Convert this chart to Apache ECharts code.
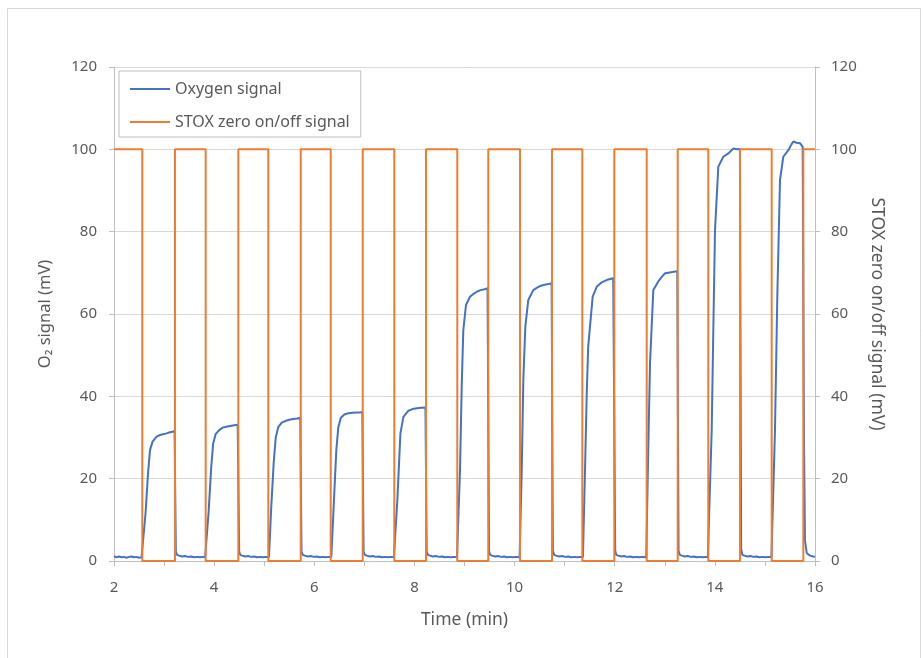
<!DOCTYPE html>
<html>
<head>
<meta charset="utf-8">
<script src="https://cdn.jsdelivr.net/npm/echarts@6/dist/echarts.min.js"></script>
<style>
html,body{margin:0;padding:0;background:#fff;}
#chart{width:923px;height:658px;}
</style>
</head>
<body>
<div id="chart"></div>
<script>
// ---- Data ----
const xTicks = [2, 4, 6, 8, 10, 12, 14, 16];
const yTicks = [0, 20, 40, 60, 80, 100, 120];

// STOX zero on/off signal: switching times (min) and levels (mV)
const stoxTimes = [2, 2.565, 2.565, 3.218, 3.218, 3.831, 3.831, 4.483, 4.483, 5.082, 5.082, 5.729, 5.729,
  6.328, 6.328, 6.967, 6.967, 7.598, 7.598, 8.231, 8.231, 8.856, 8.856, 9.475, 9.475, 10.109, 10.109,
  10.748, 10.748, 11.353, 11.353, 11.992, 11.992, 12.639, 12.639, 13.258, 13.258, 13.869, 13.869,
  14.502, 14.502, 15.135, 15.135, 15.767, 15.767, 16];
const stoxValues = [100, 100, 0, 0, 100, 100, 0, 0, 100, 100, 0, 0, 100,
  100, 0, 0, 100, 100, 0, 0, 100, 100, 0, 0, 100, 100, 0,
  0, 100, 100, 0, 0, 100, 100, 0, 0, 100, 100, 0,
  0, 100, 100, 0, 0, 100, 100];

// Oxygen signal (mV) as [time, value]
const oxygenPoints = [
  [2.00,1.2],[2.05,0.9],[2.10,1.1],[2.15,0.9],[2.20,1.0],[2.25,0.8],[2.30,1.0],[2.35,1.1],[2.40,0.9],[2.45,1.0],[2.50,0.8],[2.55,0.9],
  [2.58,1.0],[2.63,11.6],[2.68,21.4],[2.72,27.0],[2.77,29.0],[2.85,30.2],[2.92,30.6],[2.98,30.8],[3.05,31.0],[3.10,31.2],[3.17,31.4],[3.21,31.6],
  [3.235,2.2],[3.26,1.5],[3.30,1.3],[3.36,1.1],[3.42,1.2],[3.48,1.0],[3.54,1.1],[3.60,0.9],[3.66,1.0],[3.72,0.9],[3.78,1.0],[3.82,0.9],
  [3.845,1.0],[3.89,12.0],[3.94,22.5],[3.98,28.5],[4.03,30.8],[4.10,31.8],[4.17,32.4],[4.24,32.6],[4.32,32.8],[4.40,33.0],[4.47,33.1],
  [4.50,2.3],[4.52,1.5],[4.56,1.3],[4.62,1.1],[4.68,1.2],[4.74,1.0],[4.80,1.1],[4.86,0.9],[4.92,1.0],[4.98,0.9],[5.04,1.0],[5.07,0.9],
  [5.095,1.0],[5.14,13.0],[5.19,24.0],[5.23,30.0],[5.28,32.5],[5.35,33.6],[5.42,34.0],[5.50,34.3],[5.58,34.5],[5.66,34.6],[5.72,34.8],
  [5.745,2.3],[5.77,1.5],[5.81,1.3],[5.87,1.1],[5.93,1.2],[5.99,1.0],[6.05,1.1],[6.11,0.9],[6.17,1.0],[6.23,0.9],[6.29,1.0],[6.32,0.9],
  [6.34,1.0],[6.39,14.0],[6.44,27.0],[6.48,32.5],[6.53,34.8],[6.60,35.6],[6.68,35.9],[6.76,36.0],[6.85,36.1],[6.92,36.1],[6.96,36.2],
  [6.985,2.3],[7.01,1.5],[7.05,1.3],[7.11,1.1],[7.17,1.2],[7.23,1.0],[7.29,1.1],[7.35,0.9],[7.41,1.0],[7.47,0.9],[7.53,1.0],[7.59,0.9],
  [7.61,1.0],[7.66,15.0],[7.72,31.0],[7.78,35.0],[7.88,36.5],[7.96,36.9],[8.05,37.1],[8.13,37.2],[8.22,37.3],
  [8.245,2.3],[8.27,1.5],[8.31,1.3],[8.37,1.1],[8.43,1.2],[8.49,1.0],[8.55,1.1],[8.61,0.9],[8.67,1.0],[8.73,0.9],[8.79,1.0],[8.85,0.9],
  [8.87,1.0],[8.91,22.0],[8.944,42.3],[8.976,56.0],[9.03,62.2],[9.11,64.2],[9.18,64.9],[9.244,65.4],[9.32,65.8],[9.40,66.0],[9.46,66.3],
  [9.49,2.5],[9.51,1.5],[9.55,1.3],[9.61,1.1],[9.67,1.2],[9.73,1.0],[9.79,1.1],[9.85,0.9],[9.91,1.0],[9.97,0.9],[10.03,1.0],[10.10,0.9],
  [10.12,1.0],[10.143,22.0],[10.175,44.0],[10.215,57.0],[10.274,63.4],[10.374,65.8],[10.45,66.4],[10.508,66.8],[10.60,67.1],[10.68,67.3],[10.74,67.5],
  [10.765,2.5],[10.79,1.5],[10.83,1.3],[10.89,1.1],[10.95,1.2],[11.01,1.0],[11.07,1.1],[11.13,0.9],[11.19,1.0],[11.25,0.9],[11.31,1.0],[11.345,0.9],
  [11.365,1.0],[11.41,23.8],[11.44,40.0],[11.47,52.0],[11.56,64.2],[11.64,66.6],[11.74,67.7],[11.85,68.3],[11.97,68.7],[11.99,68.8],
  [12.01,2.5],[12.03,1.5],[12.07,1.3],[12.13,1.1],[12.19,1.2],[12.25,1.0],[12.31,1.1],[12.37,0.9],[12.43,1.0],[12.49,0.9],[12.55,1.0],[12.63,0.9],
  [12.65,1.0],[12.671,27.8],[12.705,48.0],[12.771,65.8],[12.871,67.9],[12.94,69.0],[13.007,69.9],[13.10,70.1],[13.207,70.3],[13.25,70.4],
  [13.275,2.5],[13.30,1.5],[13.34,1.3],[13.40,1.1],[13.46,1.2],[13.52,1.0],[13.58,1.1],[13.64,0.9],[13.70,1.0],[13.76,0.9],[13.82,1.0],[13.86,0.9],
  [13.88,1.0],[13.937,31.8],[13.969,56.0],[14.003,80.4],[14.069,95.8],[14.169,98.2],[14.269,99.0],[14.369,100.2],[14.44,100.0],[14.50,100.1],
  [14.525,3.0],[14.55,1.5],[14.59,1.3],[14.65,1.1],[14.71,1.2],[14.77,1.0],[14.83,1.1],[14.89,0.9],[14.95,1.0],[15.01,0.9],[15.07,1.0],[15.13,0.9],
  [15.15,1.0],[15.201,31.8],[15.247,64.2],[15.301,92.5],[15.367,98.2],[15.467,99.8],[15.53,101.2],[15.567,101.9],[15.63,101.6],[15.70,101.5],[15.754,100.6],
  [15.78,30.0],[15.80,5.0],[15.835,1.9],[15.90,1.3],[15.966,1.1],[16.00,1.0]
];

const textColor = '#595959';
const lineColor = '#bfbfbf';
const gridColor = '#d9d9d9';
const fontFamily = '"Noto Sans", sans-serif';

const chart = echarts.init(document.getElementById('chart'));
chart.setOption({
  backgroundColor: '#fff',
  animation: false,
  textStyle: { fontFamily: fontFamily, color: textColor },
  graphic: [{
    type: 'rect', left: 5, top: 6, silent: true,
    shape: { width: 913, height: 660 },
    style: { fill: 'none', stroke: gridColor, lineWidth: 1 }
  }],
  grid: { left: 114, right: 108, top: 67, bottom: 97, containLabel: false },
  legend: {
    orient: 'vertical', left: 119, top: 71,
    padding: [10, 11, 7, 11],
    itemGap: 17, itemWidth: 40, itemHeight: 2,
    icon: 'rect',
    borderColor: lineColor, borderWidth: 1, backgroundColor: '#fff',
    textStyle: { color: textColor, fontSize: 16, fontFamily: fontFamily },
    data: ['Oxygen signal', 'STOX zero on/off signal']
  },
  xAxis: {
    type: 'value', min: 2, max: 16, interval: 1,
    name: 'Time (min)', nameLocation: 'middle', nameGap: 50,
    nameTextStyle: { color: textColor, fontSize: 17.5, fontFamily: fontFamily },
    axisLine: { show: true, lineStyle: { color: lineColor, width: 1 } },
    axisTick: { show: true, length: 5, lineStyle: { color: lineColor } },
    splitLine: { show: false },
    axisLabel: {
      color: textColor, fontSize: 15, margin: 19, fontFamily: fontFamily,
      formatter: v => (xTicks.indexOf(v) >= 0 ? String(v) : '')
    }
  },
  yAxis: [{
    type: 'value', min: yTicks[0], max: yTicks[yTicks.length - 1], interval: 20, position: 'left',
    name: 'O₂ signal (mV)', nameLocation: 'middle', nameGap: 60,
    nameTextStyle: { color: textColor, fontSize: 16.5, fontFamily: fontFamily },
    axisLine: { show: true, lineStyle: { color: lineColor } },
    axisTick: { show: true, length: 5, lineStyle: { color: lineColor } },
    splitLine: { show: true, lineStyle: { color: gridColor, width: 1 } },
    axisLabel: { color: textColor, fontSize: 15, margin: 17, fontFamily: fontFamily }
  }, {
    type: 'value', min: yTicks[0], max: yTicks[yTicks.length - 1], interval: 20, position: 'right',
    name: 'STOX zero on/off signal (mV)', nameLocation: 'middle', nameGap: 51, nameRotate: -90,
    nameTextStyle: { color: textColor, fontSize: 17.5, fontFamily: fontFamily },
    axisLine: { show: true, lineStyle: { color: lineColor } },
    axisTick: { show: true, length: 5, lineStyle: { color: lineColor } },
    splitLine: { show: false },
    axisLabel: { color: textColor, fontSize: 15, margin: 16, fontFamily: fontFamily }
  }],
  series: [{
    name: 'Oxygen signal', type: 'line', yAxisIndex: 0,
    data: oxygenPoints, showSymbol: false, symbol: 'none',
    lineStyle: { color: '#4472C4', width: 2 }, itemStyle: { color: '#4472C4' },
    z: 2
  }, {
    name: 'STOX zero on/off signal', type: 'line', yAxisIndex: 1,
    data: stoxTimes.map((t, i) => [t, stoxValues[i]]), showSymbol: false, symbol: 'none',
    lineStyle: { color: '#ED7D31', width: 2 }, itemStyle: { color: '#ED7D31' },
    z: 3
  }]
});
</script>
</body>
</html>
